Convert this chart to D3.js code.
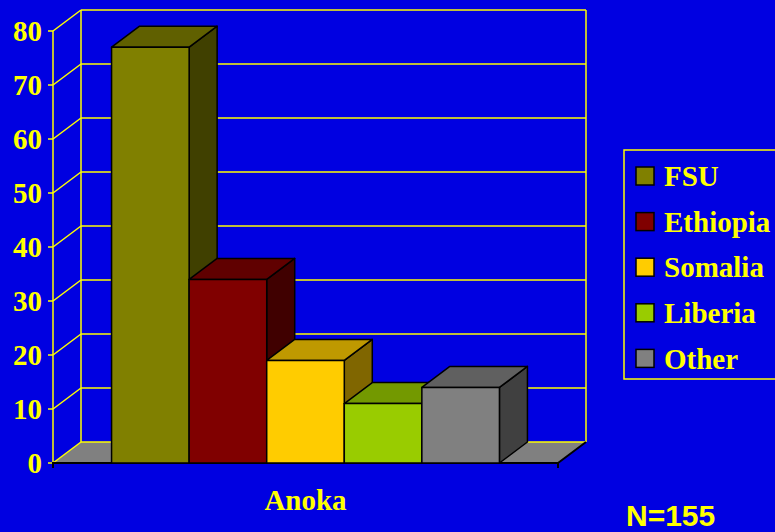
<!DOCTYPE html>
<html lang="en">
<head>
<meta charset="utf-8">
<title>Anoka</title>
<script src="https://cdn.jsdelivr.net/npm/d3@7"></script>
<style>
  body { margin: 0; background: #0000e1; }
  svg { display: block; }
</style>
</head>
<body>
<script>
// data
var category = "Anoka";
var series = ["FSU", "Ethiopia", "Somalia", "Liberia", "Other"];
var values = [77, 34, 19, 11, 14];
var yTicks = [0, 10, 20, 30, 40, 50, 60, 70, 80];
var frontColors = ["#808000", "#800000", "#ffcc00", "#99cc00", "#808080"];
var topColors = ["#606000", "#600000", "#bf9900", "#739900", "#606060"];
var sideColors = ["#404000", "#400000", "#806600", "#4d6600", "#404040"];
var note = "N=155";

var W = 775, H = 532;
var dx = 28, dy = -21; // depth of the 3d box
var yellow = "#ffff00";
var serif = "'Liberation Serif', 'Times New Roman', serif";

var svg = d3.select("body").append("svg").attr("width", W).attr("height", H);

var y = d3.scaleLinear().domain([0, 80]).range([463, 31]);
var xGroup = d3.scaleBand().domain([category]).range([53, 558]).paddingOuter(0.151).paddingInner(0);
var x = d3.scaleBand().domain(series).range([xGroup(category), xGroup(category) + xGroup.bandwidth()]);

var x0 = 53, x1 = 558;

// floor
svg.append("path")
  .attr("d", "M" + x0 + "," + y(0) + "L" + x1 + "," + y(0) + "L" + (x1 + dx) + "," + (y(0) + dy) + "L" + (x0 + dx) + "," + (y(0) + dy) + "Z")
  .attr("fill", "#808080");

// gridlines
var grid = svg.append("g").attr("stroke", yellow).attr("stroke-width", 1.5).attr("fill", "none");
grid.selectAll(".back").data(yTicks).enter().append("line")
  .attr("x1", x0 + dx).attr("x2", x1 + dx)
  .attr("y1", function(d) { return y(d) + dy; })
  .attr("y2", function(d) { return y(d) + dy; });
grid.selectAll(".side").data(yTicks).enter().append("line")
  .attr("x1", x0).attr("x2", x0 + dx)
  .attr("y1", function(d) { return y(d); })
  .attr("y2", function(d) { return y(d) + dy; });
grid.append("line").attr("x1", x0 + dx).attr("x2", x0 + dx).attr("y1", y(80) + dy).attr("y2", y(0) + dy);
grid.append("line").attr("x1", x1 + dx).attr("x2", x1 + dx).attr("y1", y(80) + dy).attr("y2", y(0) + dy);
grid.append("line").attr("x1", x0).attr("x2", x0).attr("y1", y(80)).attr("y2", y(0));
grid.selectAll(".tick").data(yTicks).enter().append("line")
  .attr("x1", x0 - 5).attr("x2", x0)
  .attr("y1", function(d) { return y(d); })
  .attr("y2", function(d) { return y(d); });

// y labels
svg.selectAll(".ylab").data(yTicks).enter().append("text")
  .attr("x", 42).attr("y", function(d) { return y(d); })
  .attr("dy", "0.35em")
  .attr("text-anchor", "end")
  .attr("font-family", serif).attr("font-weight", "bold").attr("font-size", 29)
  .attr("fill", yellow)
  .text(function(d) { return d; });

// front edge of floor
svg.append("path")
  .attr("d", "M" + x0 + "," + (y(0) + 5) + "V" + y(0) + "H" + x1 + "V" + (y(0) + 5) + "M" + x1 + "," + y(0) + "L" + (x1 + dx) + "," + (y(0) + dy))
  .attr("fill", "none").attr("stroke", "#000").attr("stroke-width", 2);

// bars
var bars = svg.selectAll(".bar").data(series).enter().append("g");
bars.each(function(s, i) {
  var g = d3.select(this);
  var l = x(s), r = x(s) + x.bandwidth(), t = y(values[i]), b = y(0);
  g.append("path")
    .attr("d", "M" + r + "," + t + "L" + (r + dx) + "," + (t + dy) + "L" + (r + dx) + "," + (b + dy) + "L" + r + "," + b + "Z")
    .attr("fill", sideColors[i]);
  g.append("path")
    .attr("d", "M" + l + "," + t + "L" + (l + dx) + "," + (t + dy) + "L" + (r + dx) + "," + (t + dy) + "L" + r + "," + t + "Z")
    .attr("fill", topColors[i]);
  g.append("rect")
    .attr("x", l).attr("y", t).attr("width", r - l).attr("height", b - t)
    .attr("fill", frontColors[i]);
  g.selectAll("path, rect").attr("stroke", "#000").attr("stroke-width", 1.5).attr("stroke-linejoin", "round");
});

// category label
svg.append("text")
  .attr("x", xGroup(category) + xGroup.bandwidth() / 2).attr("y", 510)
  .attr("text-anchor", "middle")
  .attr("font-family", serif).attr("font-weight", "bold").attr("font-size", 29)
  .attr("fill", yellow)
  .text(category);

// legend
var legend = svg.append("g");
legend.append("rect")
  .attr("x", 624).attr("y", 150).attr("width", 170).attr("height", 229)
  .attr("fill", "none").attr("stroke", yellow).attr("stroke-width", 1.5);
var items = legend.selectAll(".item").data(series).enter().append("g")
  .attr("transform", function(d, i) { return "translate(636," + (176 + i * 45.6) + ")"; });
items.append("rect")
  .attr("x", 0).attr("y", -9).attr("width", 18).attr("height", 18)
  .attr("fill", function(d, i) { return frontColors[i]; })
  .attr("stroke", "#000").attr("stroke-width", 1.5);
items.append("text")
  .attr("x", 28).attr("y", 0).attr("dy", "0.35em")
  .attr("font-family", serif).attr("font-weight", "bold").attr("font-size", 29)
  .attr("fill", yellow)
  .text(function(d) { return d; });

// note
svg.append("text")
  .attr("x", 626).attr("y", 526)
  .attr("font-family", "'Liberation Sans', Arial, sans-serif").attr("font-weight", "bold").attr("font-size", 30)
  .attr("fill", yellow)
  .text(note);
</script>
</body>
</html>
